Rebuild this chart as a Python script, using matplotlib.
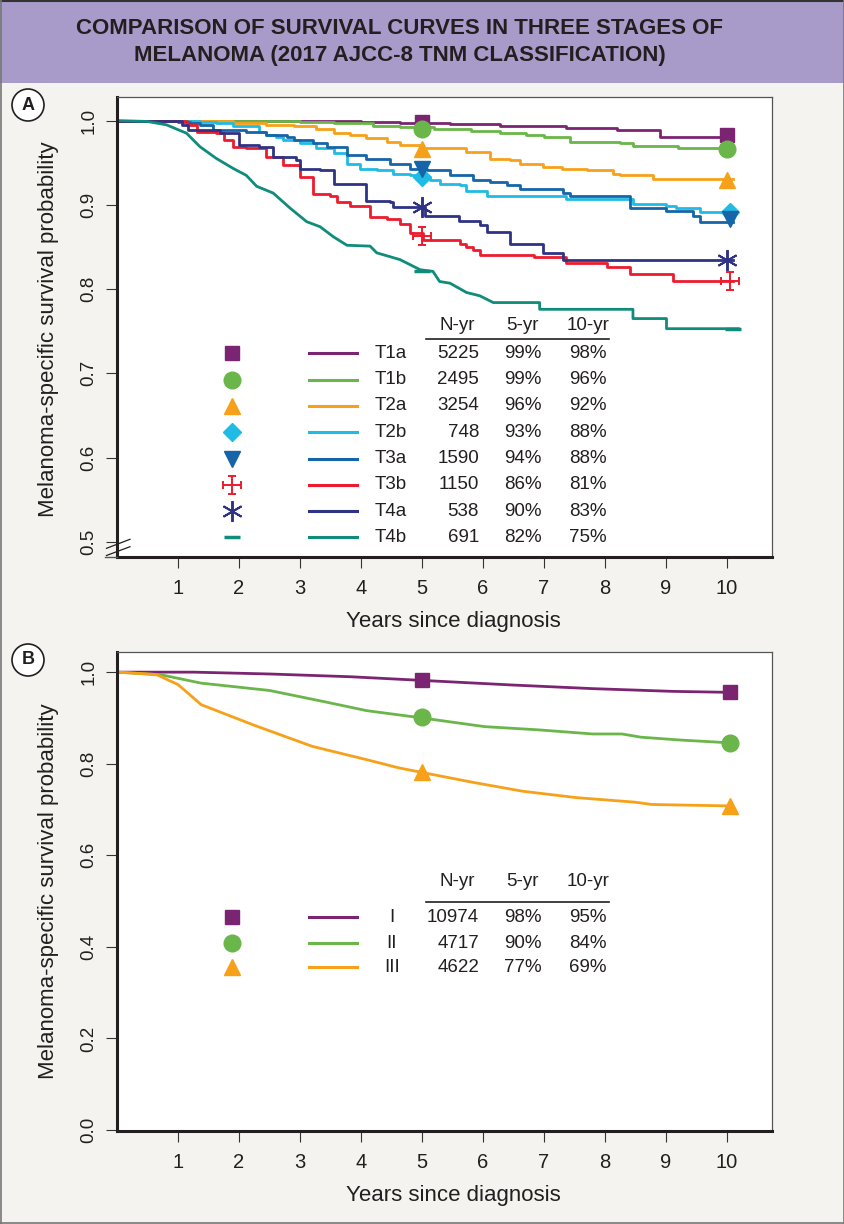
import matplotlib
matplotlib.use("Agg")
import matplotlib.pyplot as plt
from matplotlib.path import Path
from matplotlib.patches import Rectangle, Ellipse
from matplotlib.lines import Line2D

plt.rcParams['font.family'] = ['Liberation Sans', 'DejaVu Sans']

W, H = 845, 1224
INK = '#231f20'

# ---------- panel A: T categories ----------
t_labels = ['T1a', 'T1b', 'T2a', 'T2b', 'T3a', 'T3b', 'T4a', 'T4b']
t_nyr = ['5225', '2495', '3254', '748', '1590', '1150', '538', '691']
t_5yr = ['99%', '99%', '96%', '93%', '94%', '86%', '90%', '82%']
t_10yr = ['98%', '96%', '92%', '88%', '88%', '81%', '83%', '75%']
t_colors = ['#7b2572', '#6ab64a', '#f7a11a', '#1fbbe4', '#1565a8', '#ec1c2e', '#2f3384', '#0f8c7a']

t1a_time = [0, 3.0, 4.0, 4.64, 5.46, 6.28, 7.37, 8.2, 8.9, 10.1]
t1a_surv = [1.0, 0.999, 0.998, 0.997, 0.996, 0.994, 0.991, 0.989, 0.981, 0.981]

t1b_time = [0, 2.0, 3.0, 3.55, 4.2, 4.64, 5.2, 5.8, 6.28, 6.7, 7.0, 7.43, 8.24, 8.46, 9.2, 10.1]
t1b_surv = [1.0, 0.999, 0.998, 0.997, 0.994, 0.992, 0.99, 0.988, 0.985, 0.983, 0.981, 0.975,
            0.973, 0.970, 0.967, 0.967]

t2a_time = [0, 1.2, 1.9, 2.45, 2.9, 3.27, 3.55, 3.82, 4.09, 4.42, 4.64, 5.0, 5.73, 6.12, 6.44,
            6.61, 6.99, 7.3, 7.7, 8.13, 8.24, 8.79, 10.1]
t2a_surv = [1.0, 0.999, 0.997, 0.995, 0.993, 0.990, 0.985, 0.983, 0.979, 0.975, 0.971, 0.967,
            0.963, 0.955, 0.953, 0.949, 0.945, 0.943, 0.941, 0.937, 0.935, 0.931, 0.931]

t2b_time = [0, 1.36, 1.63, 1.91, 2.33, 2.45, 2.61, 2.73, 3.0, 3.27, 3.55, 3.77, 3.99, 4.26, 4.53,
            4.8, 5.02, 5.13, 5.29, 5.62, 5.73, 6.06, 7.37, 8.46, 9.0, 9.17, 9.56, 10.1]
t2b_surv = [1.0, 0.998, 0.997, 0.993, 0.987, 0.983, 0.981, 0.977, 0.973, 0.967, 0.961, 0.949,
            0.943, 0.941, 0.937, 0.935, 0.933, 0.929, 0.925, 0.923, 0.917, 0.911, 0.907, 0.901,
            0.899, 0.896, 0.892, 0.892]

t3a_time = [0, 1.0, 1.2, 1.36, 1.58, 2.12, 2.45, 2.78, 2.9, 3.22, 3.44, 3.77, 4.09, 4.48, 4.8,
            5.08, 5.46, 5.84, 6.12, 6.39, 6.61, 7.32, 7.43, 8.41, 9.0, 9.45, 9.56, 10.1]
t3a_surv = [1.0, 0.998, 0.997, 0.995, 0.989, 0.987, 0.983, 0.981, 0.977, 0.973, 0.969, 0.959,
            0.955, 0.949, 0.943, 0.941, 0.935, 0.929, 0.927, 0.923, 0.919, 0.914, 0.910, 0.896,
            0.893, 0.887, 0.880, 0.880]

t3b_time = [0, 1.14, 1.31, 1.62, 1.75, 1.91, 2.12, 2.45, 2.73, 3.0, 3.22, 3.5, 3.61, 3.82, 4.15,
            4.42, 4.64, 4.8, 5.02, 5.62, 5.73, 5.84, 5.95, 6.83, 7.37, 8.03, 8.41, 9.12, 10.1]
t3b_surv = [1.0, 0.995, 0.987, 0.985, 0.977, 0.969, 0.967, 0.957, 0.947, 0.933, 0.913, 0.911,
            0.903, 0.899, 0.885, 0.883, 0.877, 0.866, 0.858, 0.853, 0.850, 0.846, 0.840, 0.838,
            0.831, 0.826, 0.818, 0.810, 0.810]

t4a_time = [0, 1.06, 1.17, 1.69, 2.0, 2.33, 2.56, 2.94, 3.0, 3.33, 3.55, 4.09, 4.48, 4.53, 5.05,
            5.6, 5.95, 6.06, 6.44, 6.99, 7.32, 10.1]
t4a_surv = [1.0, 0.995, 0.989, 0.985, 0.971, 0.969, 0.957, 0.953, 0.943, 0.941, 0.925, 0.905,
            0.903, 0.897, 0.887, 0.881, 0.876, 0.868, 0.853, 0.843, 0.835, 0.835]

# T4b drops smoothly early on, so it is kept as a polyline of read vertices
t4b_time = [0, 0.49, 0.81, 1.14, 1.36, 1.63, 1.91, 2.12, 2.29, 2.56, 2.84, 3.11, 3.33, 3.55,
            3.77, 4.15, 4.26, 4.64, 4.97, 5.18, 5.29, 5.46, 5.73, 5.95, 6.17, 6.93, 6.93, 8.46,
            8.46, 9.01, 9.01, 10.19]
t4b_surv = [1.0, 0.999, 0.995, 0.985, 0.969, 0.955, 0.943, 0.935, 0.922, 0.914, 0.896, 0.88,
            0.874, 0.862, 0.852, 0.851, 0.843, 0.835, 0.823, 0.821, 0.809, 0.807, 0.796, 0.792,
            0.784, 0.784, 0.776, 0.776, 0.765, 0.765, 0.753, 0.753]

t_times = [t1a_time, t1b_time, t2a_time, t2b_time, t3a_time, t3b_time, t4a_time, t4b_time]
t_survs = [t1a_surv, t1b_surv, t2a_surv, t2b_surv, t3a_surv, t3b_surv, t4a_surv, t4b_surv]
t_steps = [True] * 7 + [False]

# markers at 5 and 10 years
t_mark_x = [[5, 10.0], [5, 10.0], [5, 10.0], [5, 10.05], [5, 10.05], [5, 10.05], [5, 10.0], [5, 10.1]]
t_mark_y = [[0.998, 0.983], [0.990, 0.966], [0.966, 0.930], [0.933, 0.892], [0.943, 0.883],
            [0.863, 0.810], [0.898, 0.835], [0.821, 0.753]]

# ---------- panel B: stages ----------
s_labels = ['I', 'II', 'III']
s_nyr = ['10974', '4717', '4622']
s_5yr = ['98%', '90%', '77%']
s_10yr = ['95%', '84%', '69%']
s_colors = ['#7b2572', '#6ab64a', '#f7a11a']

s1_time = [0, 1.26, 2.5, 3.82, 5.0, 6.47, 7.8, 9.12, 10.0]
s1_surv = [1.0, 1.0, 0.996, 0.990, 0.982, 0.972, 0.964, 0.958, 0.956]
s2_time = [0, 0.73, 1.38, 2.5, 3.38, 4.09, 5.0, 6.03, 6.91, 7.8, 8.28, 8.59, 9.21, 10.0]
s2_surv = [1.0, 0.994, 0.976, 0.960, 0.936, 0.916, 0.900, 0.881, 0.874, 0.865, 0.865, 0.858,
           0.852, 0.846]
s3_time = [0, 0.64, 1.0, 1.38, 2.23, 3.2, 4.09, 4.62, 5.0, 5.85, 6.65, 7.53, 8.5, 8.77, 10.0]
s3_surv = [1.0, 0.995, 0.973, 0.929, 0.885, 0.838, 0.809, 0.791, 0.781, 0.759, 0.740, 0.726,
           0.716, 0.711, 0.708]
s_times = [s1_time, s2_time, s3_time]
s_survs = [s1_surv, s2_surv, s3_surv]
s_mark_x = [[5, 10.05], [5, 10.05], [5, 10.05]]
s_mark_y = [[0.982, 0.956], [0.901, 0.846], [0.782, 0.708]]

# ---------- marker styles ----------
cap = 0.4
cross = Path([(0, -1), (0, 1), (-1, 0), (1, 0), (-cap, 1), (cap, 1), (-cap, -1), (cap, -1),
              (1, -cap), (1, cap), (-1, -cap), (-1, cap)], [Path.MOVETO, Path.LINETO] * 6)
t_markers = [dict(marker='s', ms=10), dict(marker='o', ms=12), dict(marker='^', ms=12),
             dict(marker='D', ms=9), dict(marker='v', ms=12),
             dict(marker=cross, ms=13, mfc='none', mew=1.4),
             dict(marker=(6, 2, 0), ms=15, mew=1.4), dict(marker='_', ms=12, mew=2.5)]
s_markers = t_markers[:3]


def fx(px):
    return px / W


def fy(py):
    return 1 - py / H


fig = plt.figure(figsize=(W / 100, H / 100), dpi=100, facecolor='#f4f3ef')

# header band
fig.patches.append(Rectangle((0, fy(83)), 1, fy(2) - fy(83), transform=fig.transFigure,
                             facecolor='#a99bc9', edgecolor='none'))
fig.lines.append(Line2D([0, 1], [fy(1), fy(1)], transform=fig.transFigure, color='#333333', lw=1.5))
for x in [fx(0.5), fx(844.5)]:
    fig.lines.append(Line2D([x, x], [0, 1], transform=fig.transFigure, color='#777777', lw=1.2))
fig.lines.append(Line2D([0, 1], [fy(1223), fy(1223)], transform=fig.transFigure, color='#777777', lw=1.2))

title_font = dict(family=['Liberation Sans Narrow', 'Liberation Sans'], weight='bold',
                  fontsize=16, color=INK, ha='center', va='center')
fig.text(fx(400), fy(28), 'COMPARISON OF SURVIVAL CURVES IN THREE STAGES OF', **title_font)
fig.text(fx(400), fy(55), 'MELANOMA (2017 AJCC-8 TNM CLASSIFICATION)', **title_font)


def style_axes(ax):
    ax.set_facecolor('white')
    for s in ['top', 'right']:
        ax.spines[s].set_linewidth(0.9)
        ax.spines[s].set_color('#555555')
    for s in ['left', 'bottom']:
        ax.spines[s].set_linewidth(2.2)
        ax.spines[s].set_color(INK)
    ax.tick_params(direction='out', length=8, width=0.8, color='#333333', labelcolor=INK)
    ax.tick_params(axis='x', pad=8, labelsize=14.5)
    ax.tick_params(axis='y', pad=6, labelsize=13.5, labelrotation=90)
    ax.set_xlim(0, 10.74)
    ax.set_xticks(range(1, 11))


def panel_label(letter, px, py):
    fig.patches.append(Ellipse((fx(px), fy(py)), 32 / W, 32 / H, transform=fig.transFigure,
                               facecolor='white', edgecolor=INK, lw=1.2))
    fig.text(fx(px), fy(py), letter, ha='center', va='center', fontsize=13, weight='bold', color=INK)


def legend_table(rows_y, labels, nyr, yr5, yr10, colors, markers, head_y, rule_y, label_x, label_ha):
    for y, lab, n, a, b, c, m in zip(rows_y, labels, nyr, yr5, yr10, colors, markers):
        fig.lines.append(Line2D([fx(232)], [fy(y)], transform=fig.transFigure, color=c,
                                ls='none', **m))
        fig.lines.append(Line2D([fx(309), fx(357)], [fy(y), fy(y)], transform=fig.transFigure,
                                color=c, lw=2.2))
        fig.text(fx(label_x), fy(y), lab, ha=label_ha, va='center', fontsize=13.5, color=INK)
        fig.text(fx(479), fy(y), n, ha='right', va='center', fontsize=13.5, color=INK)
        fig.text(fx(542), fy(y), a, ha='right', va='center', fontsize=13.5, color=INK)
        fig.text(fx(607), fy(y), b, ha='right', va='center', fontsize=13.5, color=INK)
    for txt, x in zip(['N-yr', '5-yr', '10-yr'], [457, 522, 588]):
        fig.text(fx(x), fy(head_y), txt, ha='center', va='center', fontsize=13.5, color=INK)
    fig.lines.append(Line2D([fx(426), fx(609)], [fy(rule_y), fy(rule_y)], transform=fig.transFigure,
                            color=INK, lw=1.2))


# ---------- panel A ----------
ax_a = fig.add_axes([fx(117), fy(557), fx(772) - fx(117), fy(97) - fy(557)])
style_axes(ax_a)
ax_a.set_ylim(0.482, 1.028)
ax_a.set_yticks([0.5, 0.6, 0.7, 0.8, 0.9, 1.0])
ax_a.set_yticklabels(['0.5', '0.6', '0.7', '0.8', '0.9', '1.0'], va='center')
for tm, sv, c, step, mx, my, m in zip(t_times, t_survs, t_colors, t_steps, t_mark_x, t_mark_y, t_markers):
    ax_a.plot(tm, sv, color=c, lw=2.0, drawstyle='steps-post' if step else 'default')
    ax_a.plot(mx, my, color=c, ls='none', clip_on=False, zorder=4, **m)

fig.text(fx(49), fy(329), 'Melanoma-specific survival probability', rotation=90,
         ha='center', va='center', fontsize=16, color=INK)
fig.text(fx(453), fy(621), 'Years since diagnosis', ha='center', va='center', fontsize=16, color=INK)

# axis break marks
for y0, y1 in [(548.3, 539.3), (555.5, 546.7)]:
    fig.lines.append(Line2D([fx(106.5), fx(130)], [fy(y0), fy(y1)], transform=fig.transFigure,
                            color=INK, lw=0.9))
fig.lines.append(Line2D([fx(105), fx(117)], [fy(557), fy(557)], transform=fig.transFigure,
                        color='#555555', lw=1.0))

panel_label('A', 28, 105)
legend_table([353.3 + 26.3 * i for i in range(8)], t_labels, t_nyr, t_5yr, t_10yr, t_colors,
             t_markers, 326, 339, 375, 'left')

# ---------- panel B ----------
ax_b = fig.add_axes([fx(117), fy(1131), fx(772) - fx(117), fy(652) - fy(1131)])
style_axes(ax_b)
ax_b.set_ylim(-0.002, 1.044)
ax_b.set_yticks([0.0, 0.2, 0.4, 0.6, 0.8, 1.0])
ax_b.set_yticklabels(['0.0', '0.2', '0.4', '0.6', '0.8', '1.0'], va='center')
for tm, sv, c, mx, my, m in zip(s_times, s_survs, s_colors, s_mark_x, s_mark_y, s_markers):
    ax_b.plot(tm, sv, color=c, lw=2.0)
    ax_b.plot(mx, my, color=c, ls='none', clip_on=False, zorder=4, **m)

fig.text(fx(49), fy(891), 'Melanoma-specific survival probability', rotation=90,
         ha='center', va='center', fontsize=16, color=INK)
fig.text(fx(453), fy(1196), 'Years since diagnosis', ha='center', va='center', fontsize=16, color=INK)

panel_label('B', 28, 660)
legend_table([917, 943, 967], s_labels, s_nyr, s_5yr, s_10yr, s_colors, s_markers,
             882, 902, 392, 'center')

fig.savefig('out.png', dpi=100, facecolor=fig.get_facecolor())
